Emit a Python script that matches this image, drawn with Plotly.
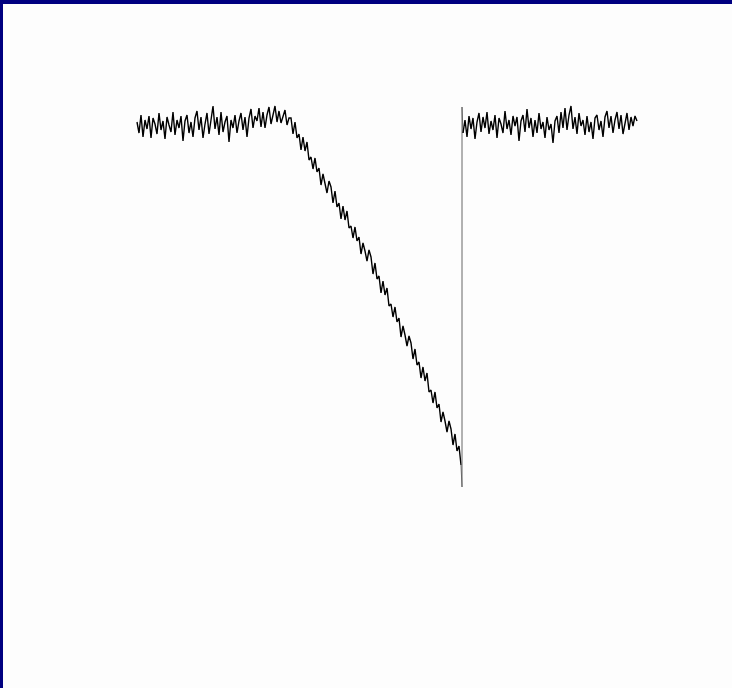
import plotly.graph_objects as go

# Signal trace (arbitrary units, sample index on x)
flat_left = [
    0.03, -0.08, 0.10, -0.12, 0.05, -0.04, 0.09, -0.13, 0.07, 0.01,
    -0.09, 0.12, -0.05, 0.04, -0.14, 0.08, 0.00, -0.07, 0.13, -0.10,
    0.05, -0.03, 0.09, -0.16, 0.04, 0.10, -0.08, 0.03, -0.12, 0.07,
    0.14, -0.05, 0.08, -0.13, 0.01, 0.12, -0.09, 0.05, 0.19, -0.04,
    0.08, -0.10, 0.13, -0.07, 0.03, 0.09, -0.17, 0.05, -0.03, 0.10,
    -0.08, 0.04, 0.12, -0.05, 0.08, -0.12, 0.07, 0.16, -0.03, 0.09,
    0.04, 0.17, -0.02, 0.13, -0.03, 0.10, 0.18, 0.01, 0.12, 0.19,
    0.03, 0.14, 0.02, 0.10, 0.15, 0.00, 0.07,
]
ramp = [
    0.07, -0.09, 0.03, -0.13, -0.09, -0.25, -0.12, -0.26, -0.17, -0.35,
    -0.32, -0.44, -0.33, -0.47, -0.43, -0.60, -0.49, -0.57, -0.68, -0.56,
    -0.62, -0.78, -0.66, -0.82, -0.78, -0.94, -0.81, -0.95, -0.86, -1.03,
    -1.01, -1.13, -1.02, -1.16, -1.12, -1.29, -1.18, -1.26, -1.36, -1.25,
    -1.32, -1.49, -1.38, -1.54, -1.51, -1.68, -1.56, -1.70, -1.63, -1.81,
    -1.79, -1.92, -1.82, -1.97, -1.93, -2.12, -2.01, -2.10, -2.21, -2.11,
    -2.18, -2.34, -2.24, -2.40, -2.37, -2.53, -2.42, -2.56, -2.48, -2.67,
    -2.65, -2.78, -2.67, -2.83, -2.79, -2.97, -2.87, -2.96, -3.07, -2.96,
    -3.04, -3.20, -3.09, -3.26, -3.21, -3.40,
]
reset_spike = [-3.62, 0.18]
reset_time = [162.5, 162.5]
flat_right = [
    -0.08, 0.05, -0.12, 0.09, -0.04, 0.07, -0.14, 0.03, 0.12, -0.07,
    0.08, -0.03, 0.13, -0.09, 0.04, -0.05, 0.10, -0.13, 0.07, 0.01,
    -0.08, 0.14, -0.04, 0.05, -0.10, 0.09, -0.01, 0.08, -0.16, 0.04,
    0.10, -0.07, 0.16, -0.03, 0.07, -0.12, 0.05, -0.08, 0.12, -0.04,
    0.03, -0.13, 0.08, -0.05, 0.01, -0.18, 0.04, 0.09, -0.08, 0.13,
    -0.03, 0.17, -0.05, 0.10, 0.19, -0.04, 0.08, -0.09, 0.12, -0.01,
    0.05, -0.10, 0.09, -0.07, 0.03, -0.14, 0.07, 0.10, -0.05, 0.04,
    -0.12, 0.08, 0.14, -0.03, 0.09, -0.08, 0.05, 0.13, -0.04, 0.10,
    -0.09, 0.03, 0.12, -0.05, 0.08, -0.01, 0.09, 0.04,
]

n_a = len(flat_left) + len(ramp)
t_a = list(range(0, n_a))
y_a = flat_left + ramp
t_b = list(range(n_a, n_a + len(flat_right)))
y_b = flat_right

# reset edge: last ramp sample -> spike -> first right sample
t_r = [t_a[-1]] + reset_time + [t_b[0]]
y_r = [y_a[-1]] + reset_spike + [y_b[0]]

fig = go.Figure()
fig.add_trace(go.Scatter(x=t_a, y=y_a, mode="lines",
                         line=dict(color="black", width=1.4), hoverinfo="skip"))
fig.add_trace(go.Scatter(x=t_r, y=y_r, mode="lines",
                         line=dict(color="#666666", width=1), hoverinfo="skip"))
fig.add_trace(go.Scatter(x=t_b, y=y_b, mode="lines",
                         line=dict(color="black", width=1.4), hoverinfo="skip"))

fig.update_layout(
    width=732, height=688,
    margin=dict(l=3, r=0, t=4, b=0),
    paper_bgcolor="#000080",
    plot_bgcolor="#FDFDFD",
    showlegend=False,
    xaxis=dict(visible=False, range=[-67, 297.5], fixedrange=True),
    yaxis=dict(visible=False, range=[-5.63, 1.21], fixedrange=True),
)

fig.write_html("out.html", config={"displayModeBar": False})
